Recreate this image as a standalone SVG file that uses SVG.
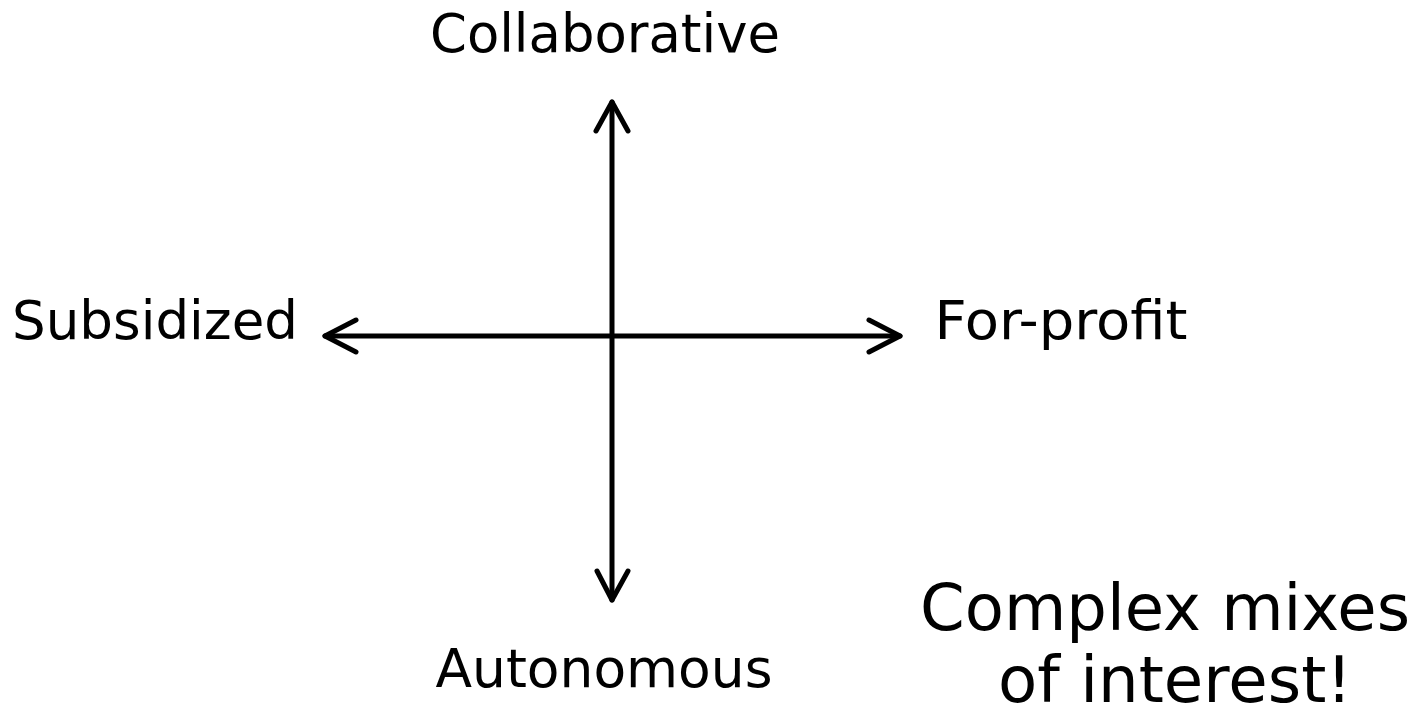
<svg xmlns="http://www.w3.org/2000/svg" width="1422" height="709" viewBox="0 0 1422 709">
<style>
.lbl{font-family:"DejaVu Sans",Verdana,sans-serif;font-size:53px;fill:#000}
.big{font-family:"DejaVu Sans",Verdana,sans-serif;font-size:64px;fill:#000}
.ax{stroke:#000;stroke-width:5;fill:none;stroke-linecap:round;stroke-linejoin:round}
</style>
<rect width="1422" height="709" fill="#fff"/>
<g id="connectors">
<line class="ax" x1="612" y1="102" x2="612" y2="600"/>
<line class="ax" x1="325" y1="336" x2="900" y2="336"/>
<polyline class="ax" points="596,131 612,102 628,131"/>
<polyline class="ax" points="597,571 612,600 628,571"/>
<polyline class="ax" points="356,320 325,336 356,352"/>
<polyline class="ax" points="869,320 900,336 869,352"/>
</g>
<g id="collaborative"><text class="lbl" x="605" y="52" text-anchor="middle" textLength="350" lengthAdjust="spacingAndGlyphs">Collaborative</text></g>
<g id="subsidized"><text class="lbl" x="155" y="339" text-anchor="middle" textLength="286" lengthAdjust="spacingAndGlyphs">Subsidized</text></g>
<g id="forprofit"><text class="lbl" x="1061" y="339" text-anchor="middle" textLength="253" lengthAdjust="spacingAndGlyphs">For-profit</text></g>
<g id="autonomous"><text class="lbl" x="604" y="687" text-anchor="middle" textLength="337" lengthAdjust="spacingAndGlyphs">Autonomous</text></g>
<g id="note"><text class="big" x="1165" y="630" text-anchor="middle" textLength="490" lengthAdjust="spacingAndGlyphs">Complex mixes</text><text class="big" x="1175" y="702" text-anchor="middle" textLength="354" lengthAdjust="spacingAndGlyphs">of interest!</text></g>
</svg>
